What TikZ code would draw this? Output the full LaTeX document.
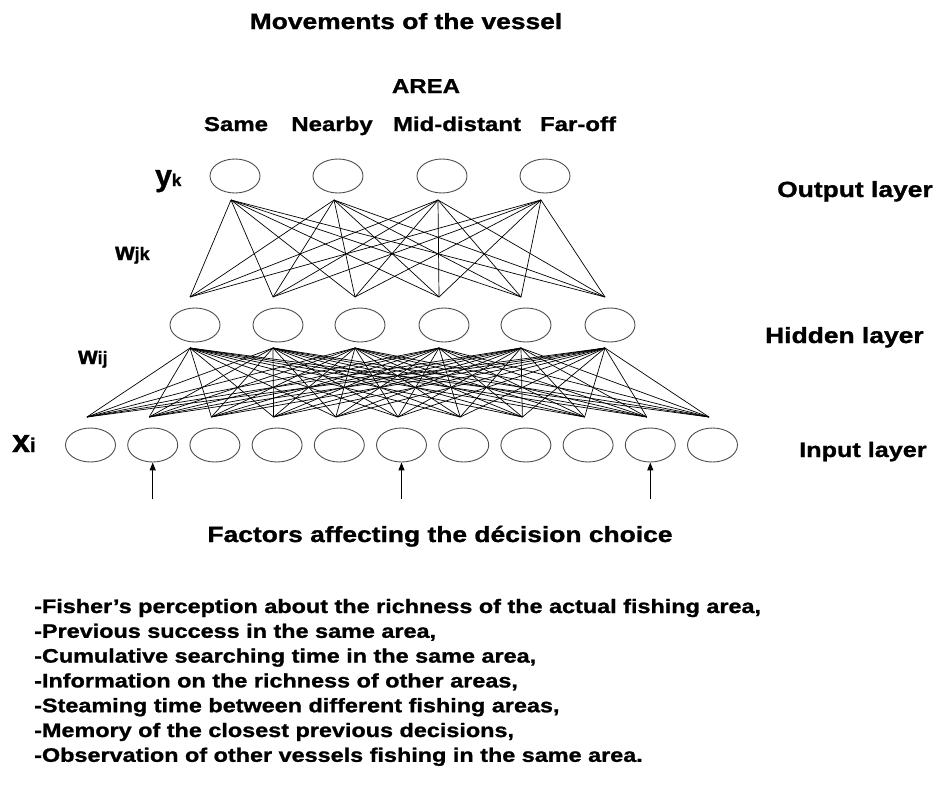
\documentclass[tikz,border=0pt]{standalone}
\usepackage{fontspec}
\setmainfont{Liberation Sans}[FakeStretch=1.2, BoldFeatures={FakeBold=1.2}]
\newfontfamily\plainsf{Liberation Sans}[BoldFeatures={FakeBold=1.2}]
\usetikzlibrary{shapes.geometric,arrows.meta}
\newcommand\fsz[1]{\fontsize{#1}{#1}\selectfont}
\begin{document}
\begin{tikzpicture}[x=1pt,y=-1pt,
  neuron/.style={draw=black!70, line width=0.9pt, ellipse, minimum width=50pt, minimum height=34pt, inner sep=0pt},
  lbl/.style={inner sep=0pt, text=black},
  wire/.style={line width=0.7pt, draw=black},
  feed/.style={line width=1pt, -{Triangle[length=8pt,width=6pt]}}]
\useasboundingbox (0,0) rectangle (939,787);

% output layer
\foreach \k/\x in {1/235,2/338,3/442,4/545}{
  \node[neuron] (o\k) at (\x,176) {};
  \coordinate (ob\k) at (\x-4,200);
}
% hidden layer
\foreach \k/\x in {1/195,2/278,3/360,4/444,5/526,6/610}{
  \node[neuron] (h\k) at (\x,325) {};
  \coordinate (ht\k) at (\x-5,297);
  \coordinate (hb\k) at (\x-5,348);
}
% input layer
\foreach \k in {1,...,11}{
  \pgfmathsetmacro\xx{90.5+62.2*(\k-1)}
  \node[neuron] (i\k) at (\xx,445) {};
  \coordinate (it\k) at (\xx-3.5,417);
}
% weights
\foreach \a in {1,...,4}{\foreach \b in {1,...,6}{\draw[wire] (ob\a) -- (ht\b);}}
\foreach \a in {1,...,6}{\foreach \b in {1,...,11}{\draw[wire] (hb\a) -- (it\b);}}

% input arrows
\foreach \k in {2,6,10}{
  \coordinate (s\k) at ([yshift=-37pt]i\k.south);
  \draw[feed] (s\k) -- (i\k.south);
}

% texts
\node[lbl, anchor=base, font=\bfseries\fsz{22}] (title) at (406,29) {Movements of the vessel};
\node[lbl, anchor=base, font=\bfseries\fsz{20}] (area) at (426,93) {AREA};
\node[lbl, anchor=base, font=\bfseries\fsz{20}] (same) at (236,131) {Same};
\node[lbl, anchor=base, font=\bfseries\fsz{20}] (nearby) at (332,131) {Nearby};
\node[lbl, anchor=base, font=\bfseries\fsz{20}] (mid) at (457,131) {Mid-distant};
\node[lbl, anchor=base, font=\bfseries\fsz{20}] (far) at (578,131) {Far-off};

\node[lbl, anchor=base west, font=\bfseries\fsz{22}] (outl) at (777,197) {Output layer};
\node[lbl, anchor=base west, font=\bfseries\fsz{22}] (hidl) at (765,343) {Hidden layer};
\node[lbl, anchor=base west, font=\bfseries\fsz{21}] (inl) at (799,457) {Input layer};

\node[lbl, anchor=base west] (yk) at (155,186) {\plainsf\bfseries\fsz{30}y\fsz{17}k};
\node[lbl, anchor=base west] (wjk) at (115,260) {\plainsf\bfseries\fsz{25}w\fsz{18}jk};
\node[lbl, anchor=base west] (wij) at (78,364) {\plainsf\bfseries\fsz{25}w\fsz{18}ij};
\node[lbl, anchor=base west] (xi) at (12,452) {\plainsf\bfseries\fsz{32}x\fsz{20}i};

\node[lbl, anchor=base, font=\bfseries\fsz{22}] (factors) at (440,542) {Factors affecting the décision choice};

\foreach \n/\t [count=\j from 0] in {
  f1/{-Fisher’s perception about the richness of the actual fishing area,},
  f2/{-Previous success in the same area,},
  f3/{-Cumulative searching time in  the same area,},
  f4/{-Information on the richness of other areas,},
  f5/{-Steaming time between different fishing areas,},
  f6/{-Memory of the closest previous decisions,},
  f7/{-Observation of other vessels fishing in the same area.}}{
  \node[lbl, anchor=base west, font=\bfseries\fsz{19.5}] (\n) at (34,613+24.8*\j) {\t};
}
\end{tikzpicture}
\end{document}
